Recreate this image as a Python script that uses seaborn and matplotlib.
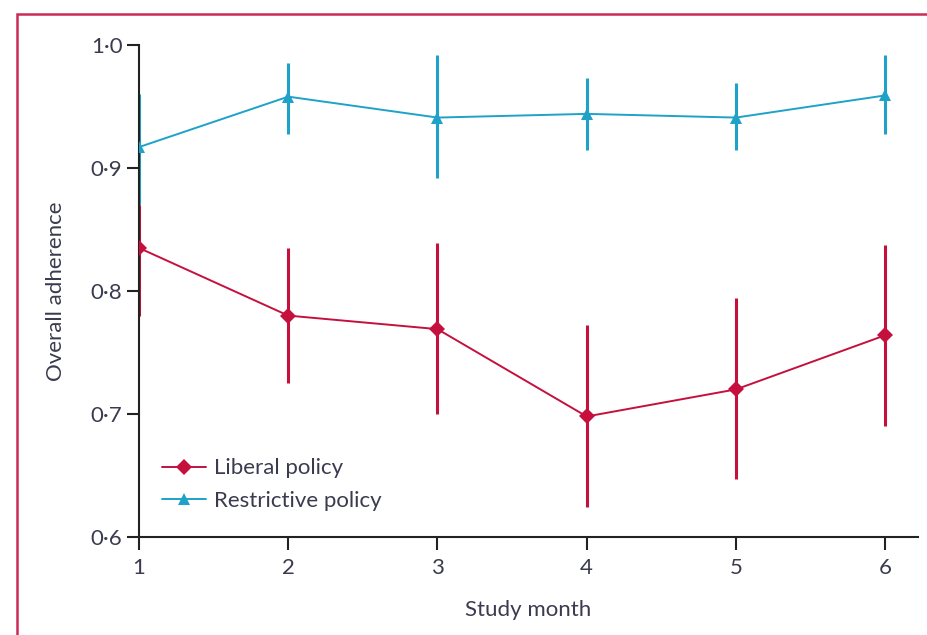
import matplotlib
matplotlib.use("Agg")
import matplotlib.pyplot as plt
import seaborn as sns
import pandas as pd
from matplotlib.patches import Rectangle
from matplotlib.ticker import FuncFormatter

months = [1, 2, 3, 4, 5, 6]
liberal_mean = [0.835, 0.780, 0.769, 0.698, 0.720, 0.764]
liberal_low = [0.780, 0.725, 0.700, 0.624, 0.647, 0.690]
liberal_high = [0.870, 0.835, 0.839, 0.772, 0.794, 0.837]
restrictive_mean = [0.917, 0.958, 0.941, 0.944, 0.941, 0.959]
restrictive_low = [0.870, 0.928, 0.892, 0.915, 0.915, 0.928]
restrictive_high = [0.960, 0.985, 0.992, 0.973, 0.969, 0.992]
series_names = ["Liberal policy", "Restrictive policy"]
y_ticks = [0.6, 0.7, 0.8, 0.9, 1.0]

sns.set_style("ticks")
plt.rcParams["font.family"] = ["Lato", "DejaVu Sans"]
text_color = "#3b3b4f"
plt.rcParams["text.color"] = text_color
plt.rcParams["axes.labelcolor"] = text_color
plt.rcParams["xtick.color"] = "#222222"
plt.rcParams["ytick.color"] = "#222222"
plt.rcParams["xtick.labelcolor"] = text_color
plt.rcParams["ytick.labelcolor"] = text_color

red = "#c5103e"
blue = "#1ea2c8"

df = pd.DataFrame({
    "month": months * 2,
    "value": liberal_mean + restrictive_mean,
    "policy": [series_names[0]] * 6 + [series_names[1]] * 6,
})

fig = plt.figure(figsize=(9.27, 6.35), dpi=100)
ax = fig.add_axes([139 / 927, 1 - 537 / 635, (918 - 139) / 927, (537 - 45) / 635])

# error bars
ax.vlines(months, restrictive_low, restrictive_high, color=blue, linewidth=2.2, zorder=2)
ax.vlines(months, liberal_low, liberal_high, color=red, linewidth=2.2, zorder=2)

sns.lineplot(data=df, x="month", y="value", hue="policy", style="policy",
             palette={series_names[0]: red, series_names[1]: blue},
             markers={series_names[0]: "D", series_names[1]: "^"},
             dashes=False, linewidth=1.4, markersize=8, markeredgewidth=0,
             ax=ax, zorder=3)

ax.set_xlim(1, 6.22)
ax.set_ylim(0.6, 1.0)
ax.set_xticks(months)
ax.set_yticks(y_ticks)
ax.yaxis.set_major_formatter(FuncFormatter(lambda v, p: f"{v:.1f}".replace(".", "·")))
ax.tick_params(axis="both", direction="out", length=9, width=1.5, labelsize=16)
ax.tick_params(axis="y", pad=3)
ax.tick_params(axis="x", pad=6)
for s in ["top", "right"]:
    ax.spines[s].set_visible(False)
for s in ["left", "bottom"]:
    ax.spines[s].set_linewidth(1.5)
    ax.spines[s].set_color("#222222")

ax.set_xlabel("Study month", fontsize=16, labelpad=16)
ax.set_ylabel("Overall adherence", fontsize=16, labelpad=18)

leg = ax.legend(loc="upper left", bbox_to_anchor=(0.018, 0.178), frameon=False,
                fontsize=16, handlelength=2.0, handletextpad=0.35, labelspacing=0.58,
                borderaxespad=0)
for t in leg.get_texts():
    t.set_color(text_color)

fig.patches.append(Rectangle((17 / 927, -0.05), 1.0, (635 - 14) / 635 + 0.05,
                             transform=fig.transFigure, fill=False,
                             edgecolor="#cc2a55", linewidth=1.8, zorder=0))

fig.savefig("out.png", dpi=100)
